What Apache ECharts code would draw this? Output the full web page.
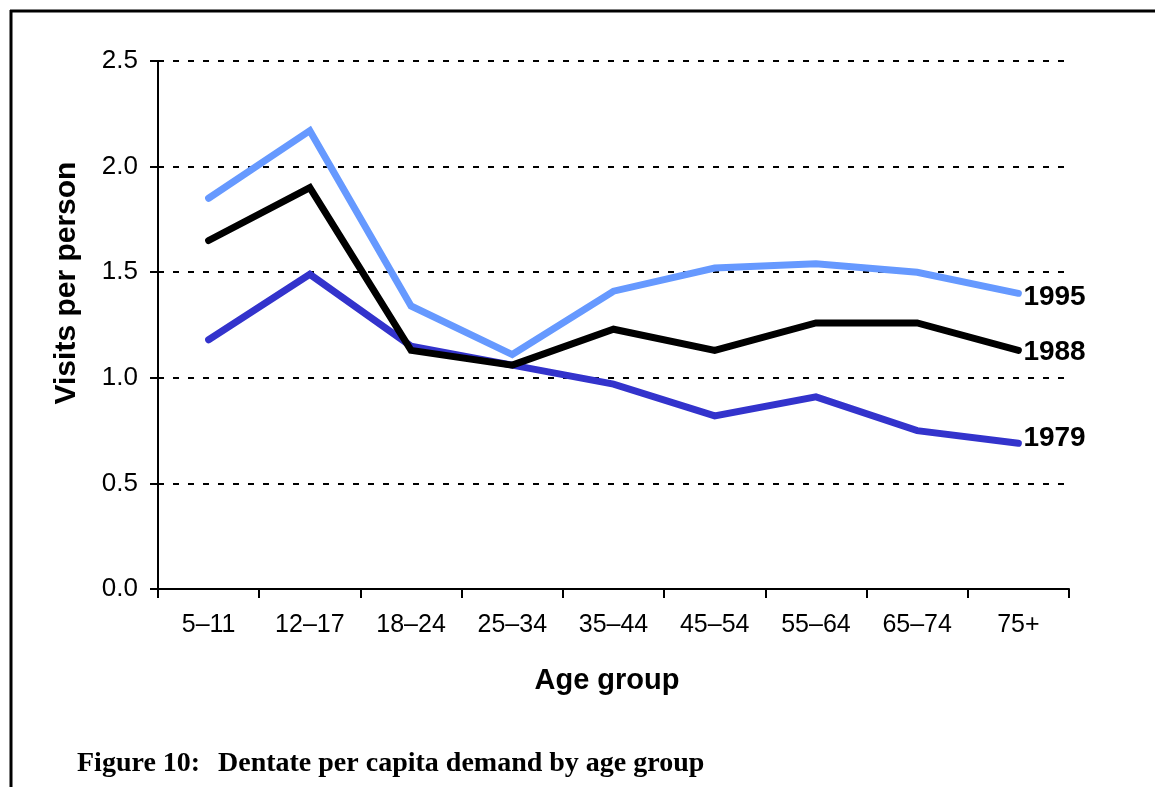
<!DOCTYPE html>
<html>
<head>
<meta charset="utf-8">
<script src="https://cdn.jsdelivr.net/npm/echarts@6/dist/echarts.min.js"></script>
<style>
html,body{margin:0;padding:0;background:#fff;}
#chart{width:1155px;height:787px;}
</style>
</head>
<body>
<div id="chart"></div>
<script>
const categories = ['5–11','12–17','18–24','25–34','35–44','45–54','55–64','65–74','75+'];
const seriesNames = ['1995','1988','1979'];
const values1995 = [1.85, 2.17, 1.34, 1.11, 1.41, 1.52, 1.54, 1.50, 1.40];
const values1988 = [1.65, 1.90, 1.13, 1.06, 1.23, 1.13, 1.26, 1.26, 1.13];
const values1979 = [1.18, 1.49, 1.15, 1.06, 0.97, 0.82, 0.91, 0.75, 0.69];
const yTicks = [0, 0.5, 1.0, 1.5, 2.0, 2.5];
const xAxisTitle = 'Age group';
const yAxisTitle = 'Visits per person';
const captionLabel = 'Figure 10:';
const captionText = 'Dentate per capita demand by age group';

const colors = ['#6699FF', '#000000', '#3333CC'];
const labelOffsets = [[0, 4], [0, 2], [0, -5]];
const dataSets = [values1995, values1988, values1979];

const chart = echarts.init(document.getElementById('chart'), null, {renderer: 'canvas'});
const font = 'Liberation Sans, Arial, sans-serif';
const captionFont = 'bold 28px "Liberation Serif", "DejaVu Serif", serif';

const option = {
  animation: false,
  backgroundColor: '#fff',
  grid: {left: 158, right: 86, top: 61, bottom: 198, containLabel: false},
  xAxis: {
    type: 'category',
    data: categories,
    boundaryGap: true,
    axisLine: {lineStyle: {color: '#000', width: 2}},
    axisTick: {show: true, length: 9, lineStyle: {color: '#000', width: 2}, alignWithLabel: false},
    axisLabel: {fontFamily: font, fontSize: 25, color: '#000', margin: 24, interval: 0},
    splitLine: {show: false}
  },
  yAxis: {
    type: 'value',
    min: yTicks[0],
    max: yTicks[yTicks.length - 1],
    interval: 0.5,
    axisLine: {show: true, lineStyle: {color: '#000', width: 2}},
    axisTick: {show: true, inside: false, length: 8, lineStyle: {color: '#000', width: 2}},
    axisLabel: {fontFamily: font, fontSize: 26, color: '#000', margin: 20,
      formatter: v => v.toFixed(1)},
    splitLine: {show: true, lineStyle: {color: '#000', width: 2, type: [6, 9]}}
  },
  series: seriesNames.map((name, i) => ({
    name: name,
    type: 'line',
    data: dataSets[i],
    symbol: 'none',
    z: 5 - i,
    lineStyle: {color: colors[i], width: 7, cap: 'round', join: 'miter'},
    endLabel: {
      show: true,
      formatter: name,
      fontFamily: font,
      fontSize: 28,
      fontWeight: 'bold',
      color: '#000',
      distance: 5,
      offset: labelOffsets[i]
    }
  })),
  graphic: [
    {type: 'line', shape: {x1: 10, y1: 11, x2: 1155, y2: 11}, style: {stroke: '#000', lineWidth: 3}},
    {type: 'line', shape: {x1: 11, y1: 10, x2: 11, y2: 787}, style: {stroke: '#000', lineWidth: 3}},
    {type: 'text', x: 607, y: 681,
      style: {text: xAxisTitle, font: 'bold 29px ' + font, fill: '#000', align: 'center', verticalAlign: 'middle'}},
    {type: 'text', x: 67, y: 283, rotation: Math.PI / 2,
      style: {text: yAxisTitle, font: 'bold 30px ' + font, fill: '#000', align: 'center', verticalAlign: 'middle'}},
    {type: 'text', x: 77, y: 764,
      style: {text: captionLabel, font: captionFont, fill: '#000', verticalAlign: 'middle'}},
    {type: 'text', x: 218, y: 764,
      style: {text: captionText, font: captionFont, fill: '#000', verticalAlign: 'middle'}}
  ]
};
chart.setOption(option);
</script>
</body>
</html>
